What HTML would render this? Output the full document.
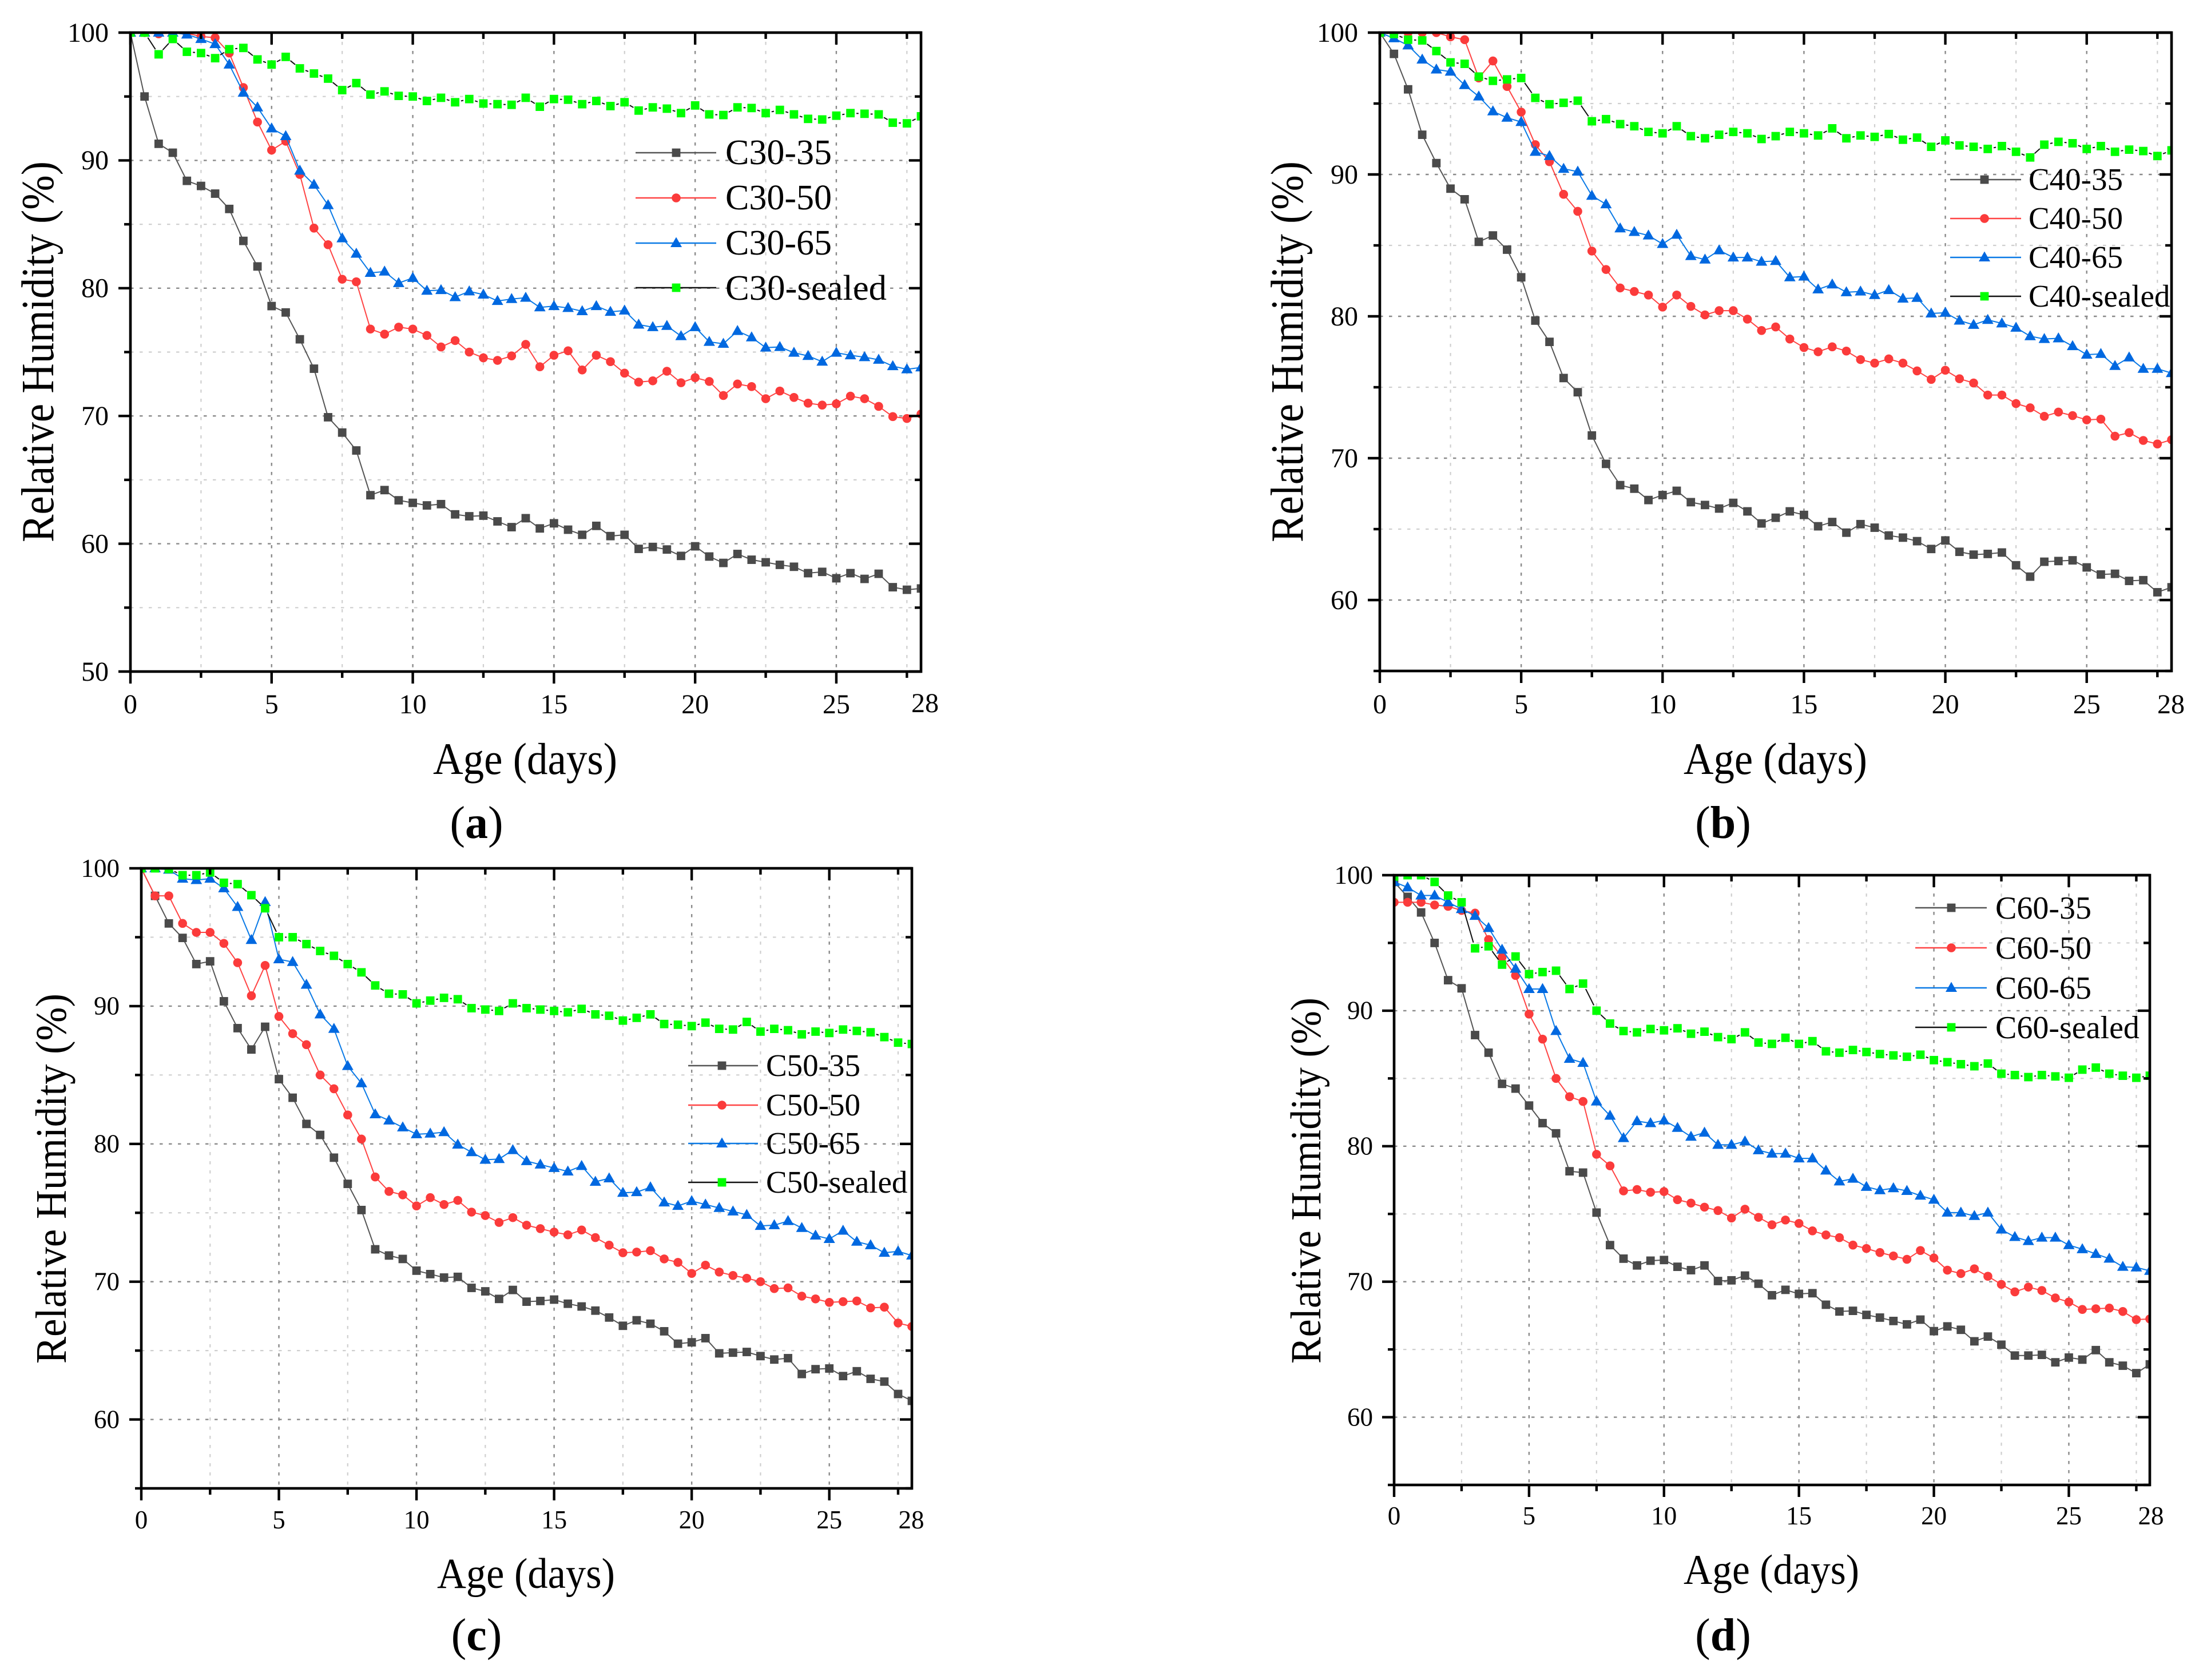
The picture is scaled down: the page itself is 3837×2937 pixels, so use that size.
<!DOCTYPE html>
<html lang="en">
<head>
<meta charset="utf-8">
<title>Relative humidity vs age for C30, C40, C50 and C60 concrete</title>
<style>
html,body{margin:0;padding:0;background:#fff;}
svg{display:block;}
text{font-family:"Liberation Serif","Times New Roman",serif;fill:#000;}
</style>
</head>
<body>
<svg id="figure" xmlns="http://www.w3.org/2000/svg" width="3837" height="2937" viewBox="0 0 3837 2937">
<rect x="0" y="0" width="3837" height="2937" fill="#fff"/>

<g id="panel-a">
  <g id="plot-a"></g>
  <text transform="translate(93,948) rotate(-90)" font-size="80" textLength="666" lengthAdjust="spacingAndGlyphs">Relative Humidity (%)</text>
  <text x="757" y="1353" font-size="78" textLength="322" lengthAdjust="spacingAndGlyphs">Age (days)</text>
  <text x="1268" y="287" font-size="62">C30-35</text>
  <text x="1268" y="366" font-size="62">C30-50</text>
  <text x="1268" y="445" font-size="62">C30-65</text>
  <text x="1268" y="524" font-size="62" textLength="282" lengthAdjust="spacingAndGlyphs">C30-sealed</text>
  <text x="833" y="1465" font-size="80" text-anchor="middle">(<tspan font-weight="bold">a</tspan>)</text>
</g>

<g id="panel-b">
  <g id="plot-b"></g>
  <text transform="translate(2277,948) rotate(-90)" font-size="80" textLength="666" lengthAdjust="spacingAndGlyphs">Relative Humidity (%)</text>
  <text x="2943" y="1353" font-size="78" textLength="321" lengthAdjust="spacingAndGlyphs">Age (days)</text>
  <text x="3546" y="332" font-size="55">C40-35</text>
  <text x="3546" y="400" font-size="55">C40-50</text>
  <text x="3546" y="468" font-size="55">C40-65</text>
  <text x="3546" y="536" font-size="55">C40-sealed</text>
  <text x="3012" y="1465" font-size="80" text-anchor="middle">(<tspan font-weight="bold">b</tspan>)</text>
</g>

<g id="panel-c">
  <g id="plot-c"></g>
  <text transform="translate(115,2384) rotate(-90)" font-size="76" textLength="647" lengthAdjust="spacingAndGlyphs">Relative Humidity (%)</text>
  <text x="764" y="2776" font-size="75" textLength="311" lengthAdjust="spacingAndGlyphs">Age (days)</text>
  <text x="1339" y="1881" font-size="55">C50-35</text>
  <text x="1339" y="1950" font-size="55">C50-50</text>
  <text x="1339" y="2017" font-size="55">C50-65</text>
  <text x="1339" y="2085" font-size="55">C50-sealed</text>
  <text x="833" y="2885" font-size="80" text-anchor="middle">(<tspan font-weight="bold">c</tspan>)</text>
</g>

<g id="panel-d">
  <g id="plot-d"></g>
  <text transform="translate(2308,2384) rotate(-90)" font-size="75" textLength="640" lengthAdjust="spacingAndGlyphs">Relative Humidity (%)</text>
  <text x="2943" y="2769" font-size="74" textLength="307" lengthAdjust="spacingAndGlyphs">Age (days)</text>
  <text x="3488" y="1606" font-size="56">C60-35</text>
  <text x="3488" y="1676" font-size="56">C60-50</text>
  <text x="3488" y="1746" font-size="56">C60-65</text>
  <text x="3488" y="1815" font-size="56">C60-sealed</text>
  <text x="3012" y="2885" font-size="80" text-anchor="middle">(<tspan font-weight="bold">d</tspan>)</text>
</g>
</svg>

<script>
// ---------- data ----------
const ages = [0,0.5,1,1.5,2,2.5,3,3.5,4,4.5,5,5.5,6,6.5,7,7.5,8,8.5,9,9.5,10,10.5,11,11.5,12,12.5,13,13.5,14,14.5,15,15.5,16,16.5,17,17.5,18,18.5,19,19.5,20,20.5,21,21.5,22,22.5,23,23.5,24,24.5,25,25.5,26,26.5,27,27.5,28];

const xMajorTicks = [0,5,10,15,20,25];
const xMinorTicks = [2.5,7.5,12.5,17.5,22.5,27.5];
const xEndLabel = [28];

const yMajorTicksA = [50,60,70,80,90,100];
const yMinorTicksA = [55,65,75,85,95];
const yMajorTicksRest = [60,70,80,90,100];
const yMinorTicksRest = [55,65,75,85,95];

const c30_35 = [100,95,91.3,90.6,88.4,88,87.4,86.2,83.7,81.7,78.6,78.1,76,73.7,69.9,68.7,67.3,63.8,64.2,63.4,63.2,63,63.1,62.3,62.15,62.2,61.75,61.3,62,61.2,61.6,61.1,60.7,61.4,60.6,60.7,59.6,59.75,59.55,59.05,59.8,59,58.5,59.2,58.75,58.55,58.35,58.2,57.7,57.8,57.3,57.7,57.25,57.65,56.6,56.4,56.5];
const c30_50 = [100,100,99.9,100,99.95,99.7,99.6,98.4,95.7,93,90.8,91.5,88.9,84.7,83.4,80.7,80.5,76.8,76.4,76.95,76.8,76.3,75.4,75.9,75,74.55,74.35,74.7,75.6,73.85,74.75,75.1,73.6,74.75,74.25,73.35,72.65,72.75,73.5,72.6,73,72.7,71.6,72.5,72.3,71.35,71.95,71.45,71,70.85,70.95,71.55,71.35,70.75,69.95,69.8,70.15];
const c30_65 = [100,100,100,100,99.85,99.5,99.1,97.5,95.3,94.15,92.5,91.9,89.2,88.1,86.5,83.9,82.7,81.2,81.3,80.4,80.8,79.8,79.85,79.3,79.75,79.5,79,79.15,79.25,78.5,78.6,78.45,78.2,78.6,78.15,78.25,77.15,76.95,77.05,76.25,76.95,75.8,75.65,76.65,76.15,75.35,75.4,74.95,74.7,74.25,74.95,74.75,74.6,74.4,73.9,73.65,73.8];
const c30_sealed = [100,100,98.3,99.5,98.5,98.4,98,98.7,98.8,97.9,97.5,98.1,97.2,96.8,96.4,95.5,96.05,95.15,95.4,95.05,95,94.65,94.9,94.55,94.8,94.45,94.4,94.35,94.9,94.2,94.8,94.75,94.4,94.65,94.25,94.55,93.9,94.15,94.05,93.7,94.3,93.6,93.55,94.15,94.1,93.7,93.95,93.6,93.25,93.2,93.5,93.7,93.65,93.6,92.95,92.9,93.45];

const c40_35 = [100,98.5,96,92.8,90.8,89,88.25,85.25,85.7,84.7,82.75,79.7,78.2,75.65,74.65,71.6,69.6,68.1,67.85,67.05,67.4,67.7,66.9,66.7,66.45,66.85,66.25,65.4,65.8,66.25,66,65.2,65.5,64.75,65.35,65.1,64.55,64.4,64.15,63.6,64.2,63.4,63.2,63.25,63.35,62.45,61.65,62.7,62.75,62.8,62.3,61.8,61.85,61.35,61.4,60.55,60.9];
const c40_50 = [100,100,100,100,100,99.7,99.5,96.8,98,96.2,94.4,92.1,90.9,88.6,87.4,84.6,83.3,82,81.75,81.5,80.65,81.5,80.7,80.1,80.4,80.4,79.8,79,79.25,78.4,77.8,77.5,77.85,77.55,76.95,76.7,77,76.7,76.15,75.55,76.2,75.6,75.3,74.45,74.45,73.85,73.55,72.95,73.25,73,72.7,72.75,71.55,71.8,71.25,71,71.3];
const c40_65 = [100,99.6,99.1,98.1,97.4,97.25,96.3,95.5,94.45,94,93.7,91.6,91.3,90.4,90.2,88.5,87.9,86.2,85.95,85.7,85.1,85.75,84.25,84,84.65,84.15,84.15,83.85,83.9,82.75,82.8,81.9,82.25,81.7,81.75,81.5,81.85,81.25,81.3,80.2,80.25,79.7,79.4,79.75,79.5,79.2,78.6,78.4,78.45,77.9,77.3,77.35,76.5,77.1,76.3,76.3,76];
const c40_sealed = [100,99.9,99.5,99.45,98.7,97.9,97.8,96.9,96.6,96.7,96.8,95.4,94.95,95.05,95.2,93.75,93.9,93.55,93.4,93,92.9,93.4,92.7,92.55,92.8,93,92.9,92.5,92.7,93,92.9,92.75,93.25,92.55,92.75,92.65,92.85,92.45,92.6,91.95,92.4,92.05,91.95,91.8,92,91.6,91.2,92.1,92.3,92.2,91.8,92,91.6,91.75,91.65,91.3,91.7];

const c50_35 = [100,98,96,94.95,93.05,93.25,90.35,88.4,86.85,88.5,84.7,83.35,81.45,80.65,79,77.1,75.2,72.35,71.9,71.65,70.8,70.55,70.3,70.35,69.55,69.3,68.75,69.4,68.55,68.6,68.7,68.4,68.2,67.9,67.4,66.8,67.2,66.95,66.4,65.5,65.6,65.9,64.8,64.85,64.9,64.6,64.35,64.45,63.3,63.65,63.7,63.15,63.5,62.95,62.75,61.85,61.35];
const c50_50 = [100,98,98,96,95.35,95.35,94.55,93.15,90.75,92.95,89.25,88,87.2,85,84,82.1,80.35,77.6,76.55,76.3,75.5,76.1,75.6,75.9,75.05,74.8,74.3,74.65,74.1,73.85,73.6,73.4,73.75,73.2,72.65,72.1,72.15,72.25,71.65,71.4,70.6,71.2,70.7,70.45,70.25,70,69.5,69.55,68.95,68.75,68.5,68.55,68.6,68.1,68.15,67,66.75];
const c50_65 = [100,100,99.9,99.25,99.15,99.25,98.55,97.2,94.8,97.55,93.4,93.2,91.55,89.4,88.35,85.65,84.4,82.15,81.7,81.2,80.7,80.75,80.85,79.95,79.4,78.85,78.9,79.55,78.75,78.5,78.25,78,78.4,77.25,77.5,76.45,76.5,76.85,75.75,75.5,75.85,75.6,75.35,75.1,74.85,74.05,74.1,74.4,73.9,73.35,73.1,73.7,72.9,72.65,72.1,72.2,71.9];
const c50_sealed = [100,100,99.95,99.5,99.5,99.7,98.95,98.85,98.05,97.1,95,95,94.5,94,93.65,93.05,92.45,91.5,90.9,90.85,90.2,90.4,90.6,90.5,89.85,89.75,89.65,90.2,89.85,89.75,89.65,89.55,89.8,89.4,89.3,88.95,89.15,89.4,88.7,88.65,88.55,88.8,88.35,88.3,88.85,88.15,88.35,88.25,87.95,88.15,88.05,88.3,88.2,88.1,87.75,87.35,87.25];

const c60_35 = [99.5,98.4,97.25,95,92.25,91.65,88.2,86.9,84.6,84.25,83,81.7,80.95,78.15,78.05,75.1,72.7,71.7,71.2,71.55,71.6,71.1,70.85,71.2,70.05,70.1,70.45,69.85,69,69.4,69.1,69.15,68.3,67.8,67.85,67.55,67.35,67.1,66.85,67.2,66.35,66.7,66.45,65.6,65.95,65.35,64.55,64.55,64.6,64.05,64.4,64.25,64.95,64.05,63.8,63.25,63.9];
const c60_50 = [98,98,98,97.8,97.7,97.4,97.2,95.25,93.95,92.6,89.75,87.9,85,83.65,83.3,79.4,78.55,76.7,76.8,76.6,76.65,76.05,75.8,75.5,75.25,74.7,75.35,74.75,74.2,74.55,74.3,73.75,73.45,73.25,72.7,72.45,72.15,71.9,71.65,72.3,71.75,70.85,70.6,70.95,70.4,69.8,69.25,69.6,69.35,68.8,68.5,67.95,68,68.05,67.8,67.2,67.25];
const c60_65 = [99.5,99.1,98.5,98.5,98,97.5,97,96.1,94.5,93.1,91.6,91.6,88.5,86.45,86.15,83.3,82.25,80.6,81.85,81.7,81.9,81.35,80.7,81,80.1,80.1,80.35,79.7,79.45,79.45,79.1,79.1,78.2,77.4,77.6,77,76.75,76.9,76.7,76.35,76.05,75.1,75.1,74.85,75.1,73.85,73.3,73,73.25,73.25,72.7,72.4,72.05,71.7,71.1,71.05,70.8];
const c60_sealed = [99.9,100,100,99.5,98.5,98,94.6,94.75,93.4,94,92.7,92.85,92.95,91.6,92,90,89.05,88.5,88.4,88.65,88.55,88.7,88.3,88.45,88.05,87.9,88.4,87.65,87.55,88,87.55,87.75,87,86.9,87.1,86.95,86.8,86.7,86.6,86.75,86.35,86.2,86.05,85.9,86.1,85.35,85.25,85.1,85.25,85.15,85.05,85.65,85.8,85.35,85.2,85.05,85.2];

// ---------- panel layout ----------
const SVGNS = 'http://www.w3.org/2000/svg';
const seriesStyles = [
  {key:'35',     line:'#555555', fill:'#4a4a4a', shape:'square'},
  {key:'50',     line:'#ff4444', fill:'#fb3b3b', shape:'circle'},
  {key:'65',     line:'#0a7ae6', fill:'#0068e0', shape:'triangle'},
  {key:'sealed', line:'#111111', fill:'#00ff00', shape:'square', gap:true}
];
const panels = [
  {id:'a', L:228,  R:1610, T:57,   B:1174, yMin:50, yMaj:yMajorTicksA,    yMin2:yMinorTicksA,
   series:[c30_35,c30_50,c30_65,c30_sealed], font:48, yLabelX:190, xBase:1247, endBase:1245, endX:1617,
   legend:{x1:1111,x2:1252,mx:1182,rows:[267,346,425,503]}},
  {id:'b', L:2412, R:3796, T:57,   B:1173, yMin:55, yMaj:yMajorTicksRest, yMin2:yMinorTicksRest,
   series:[c40_35,c40_50,c40_65,c40_sealed], font:48, yLabelX:2374, xBase:1247, endBase:1247, endX:3795,
   legend:{x1:3409,x2:3533,mx:3469,rows:[314,382,450,518]}},
  {id:'c', L:247,  R:1594, T:1518, B:2602, yMin:55, yMaj:yMajorTicksRest, yMin2:yMinorTicksRest,
   series:[c50_35,c50_50,c50_65,c50_sealed], font:45, yLabelX:209, xBase:2672, endBase:2672, endX:1593,
   legend:{x1:1203,x2:1325,mx:1262,rows:[1863,1932,1999,2067]}},
  {id:'d', L:2437, R:3758, T:1530, B:2596, yMin:55, yMaj:yMajorTicksRest, yMin2:yMinorTicksRest,
   series:[c60_35,c60_50,c60_65,c60_sealed], font:45, yLabelX:2400, xBase:2665, endBase:2665, endX:3760,
   legend:{x1:3348,x2:3473,mx:3411,rows:[1587,1657,1727,1796]}}
];

function mk(tag, attrs, parent){
  const el = document.createElementNS(SVGNS, tag);
  for (const k in attrs) el.setAttribute(k, attrs[k]);
  parent.appendChild(el);
  return el;
}
function drawMarker(style, cx, cy, parent){
  let el;
  if (style.shape === 'square'){
    el = mk('rect', {x:cx-7.4, y:cy-7.4, width:14.8, height:14.8, fill:style.fill}, parent);
  } else if (style.shape === 'circle'){
    el = mk('circle', {cx:cx, cy:cy, r:7.8, fill:style.fill}, parent);
  } else {
    el = mk('polygon', {points:(cx)+','+(cy-10.5)+' '+(cx+10)+','+(cy+7)+' '+(cx-10)+','+(cy+7), fill:style.fill}, parent);
  }
  return el;
}

panels.forEach(function(p){
  const root = document.getElementById('plot-' + p.id);
  const xAxis = function(v){ return p.L + (v / 28) * (p.R - p.L); };
  const yAxis = function(v){ return p.B - ((v - p.yMin) / (100 - p.yMin)) * (p.B - p.T); };

  // grid
  const grid = mk('g', {}, root);
  
  
  xMinorTicks.forEach(function(v){
    const l = mk('line', {x1:xAxis(v), x2:xAxis(v), y1:p.T, y2:p.B, stroke:'#cfcfcf', 'stroke-width':2.2, 'stroke-dasharray':'5.5 10.5'}, grid);
    
    
  });
  xMajorTicks.slice(1).forEach(function(v){
    const l = mk('line', {x1:xAxis(v), x2:xAxis(v), y1:p.T, y2:p.B, stroke:'#8a8a8a', 'stroke-width':2.4, 'stroke-dasharray':'5.5 10.5'}, grid);
    
    
  });
  p.yMin2.forEach(function(v){
    if (v <= p.yMin) return;
    const l = mk('line', {x1:p.L, x2:p.R, y1:yAxis(v), y2:yAxis(v), stroke:'#cfcfcf', 'stroke-width':2.2, 'stroke-dasharray':'5.5 10.5'}, grid);
    
    
  });
  p.yMaj.forEach(function(v){
    if (v <= p.yMin || v >= 100) return;
    const l = mk('line', {x1:p.L, x2:p.R, y1:yAxis(v), y2:yAxis(v), stroke:'#8a8a8a', 'stroke-width':2.4, 'stroke-dasharray':'5.5 10.5'}, grid);
    
    
  });

  // series, clipped to the plot frame
  const defs = mk('defs', {}, root);
  const clip = mk('clipPath', {id:'clip-' + p.id}, defs);
  mk('rect', {x:p.L, y:p.T, width:p.R - p.L, height:p.B - p.T}, clip);
  const marks = mk('g', {'clip-path':'url(#clip-' + p.id + ')'}, root);
  
  

  seriesStyles.forEach(function(style, si){
    const values = p.series[si];
    const g = mk('g', {}, marks);
    
    
    const pts = ages.map(function(a, i){ return [xAxis(a), yAxis(values[i])]; });
    if (style.gap){
      for (let i = 0; i < pts.length - 1; i++){
        const dx = pts[i+1][0] - pts[i][0], dy = pts[i+1][1] - pts[i][1];
        const len = Math.hypot(dx, dy), gap = 10.5;
        if (len <= gap * 2) continue;
        const ux = dx / len, uy = dy / len;
        const seg = mk('line', {x1:pts[i][0] + ux * gap, y1:pts[i][1] + uy * gap, x2:pts[i+1][0] - ux * gap, y2:pts[i+1][1] - uy * gap, stroke:style.line, 'stroke-width':2}, g);
        
        
      }
    } else {
      const line = mk('polyline', {points:pts.map(function(q){ return q[0] + ',' + q[1]; }).join(' '), fill:'none', stroke:style.line, 'stroke-width':2}, g);
      
      
    }
    pts.forEach(function(q){
      const m = drawMarker(style, q[0], q[1], g);
      
      
    });
  });

  // ticks
  const ticks = mk('g', {stroke:'#000', 'stroke-width':4.4}, root);
  
  
  const MAJ = 21, MIN = 11;
  xMajorTicks.forEach(function(v){
    mk('line', {x1:xAxis(v), x2:xAxis(v), y1:p.B, y2:p.B + MAJ}, ticks);
    mk('line', {x1:xAxis(v), x2:xAxis(v), y1:p.T, y2:p.T + MAJ}, ticks);
  });
  xMinorTicks.forEach(function(v){
    mk('line', {x1:xAxis(v), x2:xAxis(v), y1:p.B, y2:p.B + MIN}, ticks);
    mk('line', {x1:xAxis(v), x2:xAxis(v), y1:p.T, y2:p.T + MIN}, ticks);
  });
  p.yMaj.forEach(function(v){
    mk('line', {x1:p.L - MAJ, x2:p.L, y1:yAxis(v), y2:yAxis(v)}, ticks);
    mk('line', {x1:p.R - MAJ, x2:p.R, y1:yAxis(v), y2:yAxis(v)}, ticks);
  });
  p.yMin2.forEach(function(v){
    mk('line', {x1:p.L - MIN, x2:p.L, y1:yAxis(v), y2:yAxis(v)}, ticks);
    mk('line', {x1:p.R - MIN, x2:p.R, y1:yAxis(v), y2:yAxis(v)}, ticks);
  });

  // frame
  const frame = mk('rect', {x:p.L, y:p.T, width:p.R - p.L, height:p.B - p.T, fill:'none', stroke:'#000', 'stroke-width':4.6}, root);
  
  

  // tick labels
  xMajorTicks.forEach(function(v){
    const t = mk('text', {x:xAxis(v), y:p.xBase, 'font-size':p.font, 'text-anchor':'middle'}, root);
    t.textContent = String(v);
    
    
  });
  xEndLabel.forEach(function(v){
    const t = mk('text', {x:p.endX, y:p.endBase, 'font-size':p.font, 'text-anchor':'middle'}, root);
    t.textContent = String(v);
    
    
  });
  p.yMaj.forEach(function(v){
    const t = mk('text', {x:p.yLabelX, y:yAxis(v) + p.font * 0.33, 'font-size':p.font, 'text-anchor':'end'}, root);
    t.textContent = String(v);
    
    
  });

  // legend swatches
  seriesStyles.forEach(function(style, si){
    const ry = p.legend.rows[si];
    const g = mk('g', {}, root);
    
    
    mk('line', {x1:p.legend.x1, x2:p.legend.x2, y1:ry, y2:ry, stroke:style.line, 'stroke-width':2.4}, g);
    drawMarker(style, p.legend.mx, ry, g);
  });
});
</script>
</body>
</html>
